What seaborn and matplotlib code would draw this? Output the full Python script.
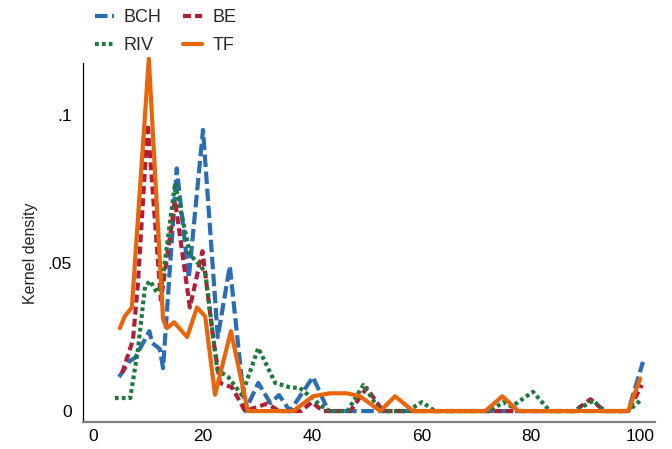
import matplotlib
matplotlib.use("Agg")
import matplotlib.pyplot as plt
import seaborn as sns
import pandas as pd
from matplotlib.lines import Line2D

# ---- data (x = value, y = kernel density) ----
bch_x = [4.75, 6.8, 7.7, 10.3, 10.8, 12.2, 12.8, 15.3, 17.5, 20.1, 22.8, 25.0, 27.8,
         30.2, 32.4, 34.0, 36.0, 40.2, 43.0, 97.8, 100.5]
bch_y = [0.0115, 0.017, 0.018, 0.027, 0.023, 0.021, 0.0145, 0.082, 0.045, 0.095, 0.025,
         0.049, 0.0, 0.0095, 0.0027, 0.0054, 0.0, 0.0115, 0.0, 0.0, 0.0166]

be_x = [5.3, 7.3, 8.2, 10.0, 12.4, 15.0, 17.7, 20.0, 22.0, 23.2, 25.4, 27.8, 31.8, 34.0,
        38.0, 40.0, 42.0, 47.0, 50.0, 53.0, 88.0, 90.9, 93.5, 97.8, 100.3]
be_y = [0.0128, 0.024, 0.043, 0.097, 0.0375, 0.071, 0.035, 0.054, 0.024, 0.0095, 0.008,
        0.0, 0.0025, 0.0, 0.0, 0.003, 0.0, 0.0, 0.0078, 0.0, 0.0, 0.004, 0.0, 0.0, 0.0088]

riv_x = [4.0, 6.8, 8.2, 9.5, 10.4, 11.7, 12.6, 15.0, 17.7, 19.6, 20.5, 22.7, 24.7, 27.2,
         30.2, 33.3, 36.0, 37.8, 41.9, 43.3, 46.5, 49.4, 52.5, 57.5, 60.1, 62.5, 72.5,
         75.0, 76.5, 80.4, 83.5, 88.0, 91.4, 93.5, 97.8, 100.3]
riv_y = [0.0044, 0.0044, 0.0206, 0.042, 0.044, 0.040, 0.043, 0.077, 0.053, 0.049, 0.047,
         0.014, 0.0115, 0.0054, 0.0213, 0.0095, 0.008, 0.0078, 0.0015, 0.0, 0.0, 0.0088,
         0.0, 0.0, 0.003, 0.0, 0.0, 0.003, 0.0015, 0.0065, 0.0, 0.0, 0.0035, 0.0, 0.0, 0.004]

tf_x = [4.9, 5.8, 7.1, 10.2, 12.8, 13.5, 14.8, 17.2, 19.0, 20.5, 22.3, 25.2, 28.3, 36.6,
        40.2, 43.3, 46.4, 48.8, 52.5, 55.2, 58.5, 71.7, 74.8, 77.7, 97.8, 100.0]
tf_y = [0.028, 0.032, 0.035, 0.119, 0.031, 0.028, 0.030, 0.025, 0.035, 0.032, 0.0055,
        0.027, 0.0, 0.0, 0.005, 0.006, 0.006, 0.005, 0.0, 0.005, 0.0, 0.0, 0.005, 0.0,
        0.0, 0.011]

labels = ["BCH", "BE", "RIV", "TF"]
xticks = [0, 20, 40, 60, 80, 100]
yticks = [0, 0.05, 0.1]
ytick_labels = ["0", ".05", ".1"]

colors = {"BCH": "#2a6db5", "BE": "#b21f35", "RIV": "#1c7a3d", "TF": "#e8650c"}
lstyles = {"BCH": (0, (3.0, 1.1)), "BE": (0, (1.9, 1.0)), "RIV": (0, (0.9, 0.75)), "TF": "-"}

series = {"BCH": (bch_x, bch_y), "BE": (be_x, be_y), "RIV": (riv_x, riv_y), "TF": (tf_x, tf_y)}

sns.set_theme(style="white")
plt.rcParams["font.family"] = ["Liberation Sans", "DejaVu Sans"]

fig = plt.figure(figsize=(6.72, 4.49), dpi=100)
ax = fig.add_axes([83/672, 1 - 422/449, (655-83)/672, (422-63)/449])

LW = 3.0
for lab in labels:
    xs, ys = series[lab]
    df = pd.DataFrame({"x": xs, "y": ys})
    sns.lineplot(data=df, x="x", y="y", ax=ax, color=colors[lab], linewidth=LW,
                 linestyle=lstyles[lab], sort=False, errorbar=None, estimator=None,
                 legend=False, clip_on=False)

ax.set_xlim(-1.83, 102.7)
ax.set_ylim(-0.0037, 0.1176)
ax.set_xticks(xticks)
ax.set_xticklabels([str(t) for t in xticks])
ax.set_yticks(yticks)
ax.set_yticklabels(ytick_labels)
ax.tick_params(axis="both", length=0, labelsize=12.5, colors="#000000")
ax.tick_params(axis="y", pad=8)
ax.tick_params(axis="x", pad=5)
ax.set_xlabel("")
ax.set_ylabel("Kernel density", fontsize=11.5)
ax.yaxis.set_label_coords(-0.078, 0.47)

for s in ["top", "right"]:
    ax.spines[s].set_visible(False)
ax.spines["left"].set_color("#000000")
ax.spines["left"].set_linewidth(0.9)
ax.spines["bottom"].set_color("#808080")
ax.spines["bottom"].set_linewidth(1.6)

order = ["BCH", "RIV", "BE", "TF"]
handles = [Line2D([0], [0], color=colors[l], linewidth=LW, linestyle=lstyles[l]) for l in order]
fig.legend(handles, order, loc="upper left", bbox_to_anchor=(95/672, 1 - 9/449),
           ncol=2, frameon=False, fontsize=13, handlelength=1.05, handletextpad=0.55,
           columnspacing=1.2, labelspacing=0.6, borderpad=0, borderaxespad=0)

fig.savefig("out.png", dpi=100)
